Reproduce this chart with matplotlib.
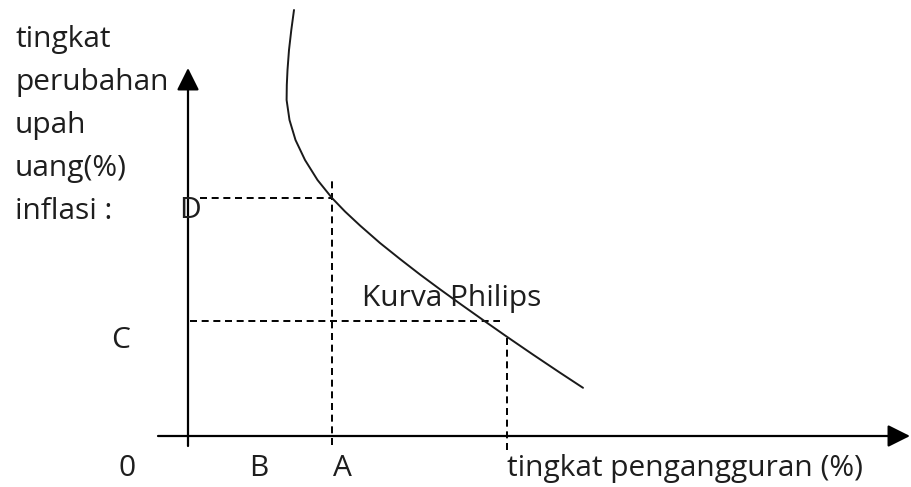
import matplotlib
matplotlib.use("Agg")
import matplotlib.pyplot as plt

# ------------------------------------------------------------------
# Data (diagram units: origin at the axes crossing, 1 unit ~ 1 px)
# ------------------------------------------------------------------
curve_x = [106, 103.3, 101, 99.5, 98.8, 98.6, 101.5, 107.5, 117, 129.5, 144,
           157, 172, 192, 212, 232, 252, 272, 297, 319, 345, 372, 395]
curve_y = [426, 406, 386, 366, 351, 336, 316, 296, 276, 256, 238,
           224.5, 210.5, 193, 177, 161.5, 146.7, 132.3, 114.6, 99.2, 81.4,
           63.3, 48.2]

x_A = 144      # tingkat pengangguran at point A
y_D = 238      # inflation at D
y_C = 115      # inflation at C
x_U = 319      # unemployment level matching C on the curve

y_label_lines = ["tingkat", "perubahan", "upah", "uang(%)", "inflasi :"]
x_label = "tingkat pengangguran (%)"
curve_label = "Kurva Philips"

TEXT_COLOR = "#1e1e1e"
FONT = ["Open Sans", "DejaVu Sans"]
FS = 21.5

fig = plt.figure(figsize=(9.11, 4.87), dpi=100)
ax = fig.add_axes([0, 0, 1, 1])
ax.set_xlim(-188, 723)
ax.set_ylim(-51, 436)
ax.axis("off")

# axes with arrow heads
arrow_kw = dict(arrowstyle="-|>,head_length=0.4,head_width=0.2",
                color="black", lw=1.6, mutation_scale=34,
                shrinkA=0, shrinkB=0)
ax.annotate("", xy=(722, 0), xytext=(-30, 0), arrowprops=arrow_kw)
ax.annotate("", xy=(0, 368), xytext=(0, -10), arrowprops=arrow_kw)

# guide lines
dash = dict(color="black", lw=1.4, dashes=(3.6, 2.4))
ax.plot([x_A, x_A], [-9, 256], **dash)
ax.plot([12, x_A], [y_D, y_D], **dash)
ax.plot([2, x_U - 7], [y_C, y_C], **dash)
ax.plot([x_U, x_U], [-14, y_C - 16], **dash)

# Phillips curve
ax.plot(curve_x, curve_y, color="#1a1a1a", lw=1.4, solid_capstyle="round",
        solid_joinstyle="round")

txt = dict(color=TEXT_COLOR, family=FONT, fontsize=FS)

# vertical axis label (stacked lines)
for i, line in enumerate(y_label_lines):
    ax.text(-173, 389 - i * 43, line, ha="left", va="baseline", **txt)

ax.text(2, 218, "D", ha="center", va="baseline", **txt)
ax.text(-67, 88, "C", ha="center", va="baseline", **txt)

for lab, xp in [("0", -61), ("B", 71), ("A", 154)]:
    ax.text(xp, -40, lab, ha="center", va="baseline", **txt)
ax.text(x_U, -40, x_label, ha="left", va="baseline", **txt)

ax.text(174, 130, curve_label, ha="left", va="baseline", **txt)

fig.savefig("out.png", dpi=100, facecolor="white")
